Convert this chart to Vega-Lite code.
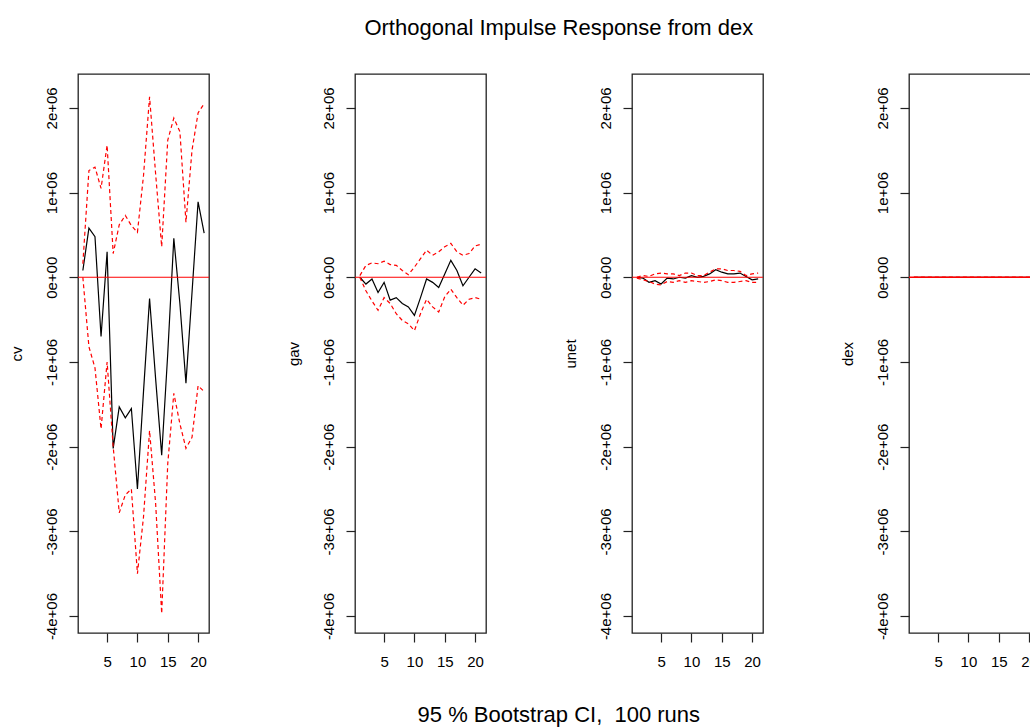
{
  "$schema": "https://vega.github.io/schema/vega-lite/v6.json",
  "padding": {"left": 8, "top": 17, "right": 5, "bottom": 2},
  "background": "white",
  "title": {"text": "Orthogonal Impulse Response from dex", "anchor": "middle", "dx": 34, "offset": 33},
  "datasets": {
    "irf": [
      {"var": "cv", "h": 1, "irf": 80000, "upper": 160000, "lower": 0},
      {"var": "cv", "h": 2, "irf": 580000, "upper": 1260000, "lower": -820000},
      {"var": "cv", "h": 3, "irf": 480000, "upper": 1300000, "lower": -1070000},
      {"var": "cv", "h": 4, "irf": -700000, "upper": 1050000, "lower": -1790000},
      {"var": "cv", "h": 5, "irf": 300000, "upper": 1560000, "lower": -1000000},
      {"var": "cv", "h": 6, "irf": -2020000, "upper": 280000, "lower": -2000000},
      {"var": "cv", "h": 7, "irf": -1530000, "upper": 620000, "lower": -2780000},
      {"var": "cv", "h": 8, "irf": -1660000, "upper": 730000, "lower": -2570000},
      {"var": "cv", "h": 9, "irf": -1550000, "upper": 610000, "lower": -2500000},
      {"var": "cv", "h": 10, "irf": -2500000, "upper": 530000, "lower": -3500000},
      {"var": "cv", "h": 11, "irf": -1350000, "upper": 1200000, "lower": -2830000},
      {"var": "cv", "h": 12, "irf": -250000, "upper": 2130000, "lower": -1810000},
      {"var": "cv", "h": 13, "irf": -1200000, "upper": 1220000, "lower": -2670000},
      {"var": "cv", "h": 14, "irf": -2100000, "upper": 360000, "lower": -3970000},
      {"var": "cv", "h": 15, "irf": -900000, "upper": 1620000, "lower": -2200000},
      {"var": "cv", "h": 16, "irf": 460000, "upper": 1880000, "lower": -1370000},
      {"var": "cv", "h": 17, "irf": -310000, "upper": 1720000, "lower": -1730000},
      {"var": "cv", "h": 18, "irf": -1250000, "upper": 650000, "lower": -2020000},
      {"var": "cv", "h": 19, "irf": -180000, "upper": 1500000, "lower": -1890000},
      {"var": "cv", "h": 20, "irf": 890000, "upper": 1940000, "lower": -1280000},
      {"var": "cv", "h": 21, "irf": 520000, "upper": 2050000, "lower": -1350000},
      {"var": "gav", "h": 1, "irf": 0, "upper": 20000, "lower": 0},
      {"var": "gav", "h": 2, "irf": -80000, "upper": 140000, "lower": -160000},
      {"var": "gav", "h": 3, "irf": -20000, "upper": 170000, "lower": -280000},
      {"var": "gav", "h": 4, "irf": -180000, "upper": 160000, "lower": -390000},
      {"var": "gav", "h": 5, "irf": -60000, "upper": 190000, "lower": -240000},
      {"var": "gav", "h": 6, "irf": -270000, "upper": 150000, "lower": -310000},
      {"var": "gav", "h": 7, "irf": -240000, "upper": 140000, "lower": -430000},
      {"var": "gav", "h": 8, "irf": -310000, "upper": 80000, "lower": -510000},
      {"var": "gav", "h": 9, "irf": -350000, "upper": 30000, "lower": -550000},
      {"var": "gav", "h": 10, "irf": -450000, "upper": 120000, "lower": -630000},
      {"var": "gav", "h": 11, "irf": -240000, "upper": 220000, "lower": -430000},
      {"var": "gav", "h": 12, "irf": -20000, "upper": 320000, "lower": -260000},
      {"var": "gav", "h": 13, "irf": -60000, "upper": 260000, "lower": -350000},
      {"var": "gav", "h": 14, "irf": -120000, "upper": 300000, "lower": -410000},
      {"var": "gav", "h": 15, "irf": 40000, "upper": 360000, "lower": -230000},
      {"var": "gav", "h": 16, "irf": 200000, "upper": 400000, "lower": -140000},
      {"var": "gav", "h": 17, "irf": 80000, "upper": 300000, "lower": -240000},
      {"var": "gav", "h": 18, "irf": -100000, "upper": 260000, "lower": -330000},
      {"var": "gav", "h": 19, "irf": 0, "upper": 280000, "lower": -260000},
      {"var": "gav", "h": 20, "irf": 100000, "upper": 370000, "lower": -240000},
      {"var": "gav", "h": 21, "irf": 50000, "upper": 390000, "lower": -260000},
      {"var": "unet", "h": 1, "irf": 0, "upper": 0, "lower": -10000},
      {"var": "unet", "h": 2, "irf": -10000, "upper": 20000, "lower": -30000},
      {"var": "unet", "h": 3, "irf": -60000, "upper": 10000, "lower": -50000},
      {"var": "unet", "h": 4, "irf": -40000, "upper": 40000, "lower": -80000},
      {"var": "unet", "h": 5, "irf": -80000, "upper": 50000, "lower": -90000},
      {"var": "unet", "h": 6, "irf": -10000, "upper": 40000, "lower": -50000},
      {"var": "unet", "h": 7, "irf": -20000, "upper": 40000, "lower": -60000},
      {"var": "unet", "h": 8, "irf": 0, "upper": 20000, "lower": -40000},
      {"var": "unet", "h": 9, "irf": -10000, "upper": 50000, "lower": -60000},
      {"var": "unet", "h": 10, "irf": 20000, "upper": 50000, "lower": -40000},
      {"var": "unet", "h": 11, "irf": 0, "upper": 20000, "lower": -50000},
      {"var": "unet", "h": 12, "irf": 10000, "upper": 20000, "lower": -60000},
      {"var": "unet", "h": 13, "irf": 40000, "upper": 60000, "lower": -50000},
      {"var": "unet", "h": 14, "irf": 90000, "upper": 100000, "lower": -30000},
      {"var": "unet", "h": 15, "irf": 60000, "upper": 100000, "lower": -40000},
      {"var": "unet", "h": 16, "irf": 40000, "upper": 80000, "lower": -60000},
      {"var": "unet", "h": 17, "irf": 40000, "upper": 80000, "lower": -60000},
      {"var": "unet", "h": 18, "irf": 50000, "upper": 70000, "lower": -50000},
      {"var": "unet", "h": 19, "irf": 10000, "upper": 20000, "lower": -40000},
      {"var": "unet", "h": 20, "irf": -30000, "upper": 40000, "lower": -60000},
      {"var": "unet", "h": 21, "irf": -20000, "upper": 50000, "lower": -60000},
      {"var": "dex", "h": 1, "irf": 0, "upper": 0, "lower": 0},
      {"var": "dex", "h": 2, "irf": 0, "upper": 0, "lower": 0},
      {"var": "dex", "h": 3, "irf": 0, "upper": 0, "lower": 0},
      {"var": "dex", "h": 4, "irf": 0, "upper": 0, "lower": 0},
      {"var": "dex", "h": 5, "irf": 0, "upper": 0, "lower": 0},
      {"var": "dex", "h": 6, "irf": 0, "upper": 0, "lower": 0},
      {"var": "dex", "h": 7, "irf": 0, "upper": 0, "lower": 0},
      {"var": "dex", "h": 8, "irf": 0, "upper": 0, "lower": 0},
      {"var": "dex", "h": 9, "irf": 0, "upper": 0, "lower": 0},
      {"var": "dex", "h": 10, "irf": 0, "upper": 0, "lower": 0},
      {"var": "dex", "h": 11, "irf": 0, "upper": 0, "lower": 0},
      {"var": "dex", "h": 12, "irf": 0, "upper": 0, "lower": 0},
      {"var": "dex", "h": 13, "irf": 0, "upper": 0, "lower": 0},
      {"var": "dex", "h": 14, "irf": 0, "upper": 0, "lower": 0},
      {"var": "dex", "h": 15, "irf": 0, "upper": 0, "lower": 0},
      {"var": "dex", "h": 16, "irf": 0, "upper": 0, "lower": 0},
      {"var": "dex", "h": 17, "irf": 0, "upper": 0, "lower": 0},
      {"var": "dex", "h": 18, "irf": 0, "upper": 0, "lower": 0},
      {"var": "dex", "h": 19, "irf": 0, "upper": 0, "lower": 0},
      {"var": "dex", "h": 20, "irf": 0, "upper": 0, "lower": 0},
      {"var": "dex", "h": 21, "irf": 0, "upper": 0, "lower": 0}
    ]
  },
  "vconcat": [
    {
      "title": {"text": "95 % Bootstrap CI, \u00a0100 runs", "orient": "bottom", "anchor": "middle", "dx": 34, "offset": 35},
      "spacing": 74,
      "hconcat": [
        {
          "width": 131, "height": 559,
          "data": {"name": "irf"},
          "transform": [{"filter": "datum.var == 'cv'"}],
          "layer": [
            {"mark": {"type": "line", "color": "#000000", "strokeWidth": 1.2},
             "encoding": {
               "x": {"field": "h", "type": "quantitative", "scale": {"domain": [0.2, 21.8], "nice": false, "zero": false}, "axis": {"values": [5, 10, 15, 20], "title": null, "labelPadding": 12, "format": "d"}},
               "y": {"field": "irf", "type": "quantitative", "scale": {"domain": [-4200000, 2400000], "nice": false, "zero": false}, "axis": {"title": "cv", "values": [-4000000, -3000000, -2000000, -1000000, 0, 1000000, 2000000], "labelAngle": -90, "labelAlign": "center", "labelBaseline": "bottom", "labelPadding": 10, "titlePadding": 20, "labelExpr": "datum.value == 0 ? '0e+00' : (datum.value < 0 ? '-' : '') + format(abs(datum.value) / 1000000, 'd') + 'e+06'"}}
             }},
            {"transform": [{"filter": "datum.h == 1"}], "mark": {"type": "rule", "color": "#ff0000", "strokeWidth": 1.2}, "encoding": {"y": {"datum": 0, "type": "quantitative"}}},
            {"mark": {"type": "line", "color": "#ff0000", "strokeWidth": 1.2, "strokeDash": [4, 3]},
             "encoding": {"x": {"field": "h", "type": "quantitative"}, "y": {"field": "upper", "type": "quantitative"}}},
            {"mark": {"type": "line", "color": "#ff0000", "strokeWidth": 1.2, "strokeDash": [4, 3]},
             "encoding": {"x": {"field": "h", "type": "quantitative"}, "y": {"field": "lower", "type": "quantitative"}}}
          ]
        },
        {
          "width": 131, "height": 559,
          "data": {"name": "irf"},
          "transform": [{"filter": "datum.var == 'gav'"}],
          "layer": [
            {"mark": {"type": "line", "color": "#000000", "strokeWidth": 1.2},
             "encoding": {
               "x": {"field": "h", "type": "quantitative", "scale": {"domain": [0.2, 21.8], "nice": false, "zero": false}, "axis": {"values": [5, 10, 15, 20], "title": null, "labelPadding": 12, "format": "d"}},
               "y": {"field": "irf", "type": "quantitative", "scale": {"domain": [-4200000, 2400000], "nice": false, "zero": false}, "axis": {"title": "gav", "values": [-4000000, -3000000, -2000000, -1000000, 0, 1000000, 2000000], "labelAngle": -90, "labelAlign": "center", "labelBaseline": "bottom", "labelPadding": 10, "titlePadding": 20, "labelExpr": "datum.value == 0 ? '0e+00' : (datum.value < 0 ? '-' : '') + format(abs(datum.value) / 1000000, 'd') + 'e+06'"}}
             }},
            {"transform": [{"filter": "datum.h == 1"}], "mark": {"type": "rule", "color": "#ff0000", "strokeWidth": 1.2}, "encoding": {"y": {"datum": 0, "type": "quantitative"}}},
            {"mark": {"type": "line", "color": "#ff0000", "strokeWidth": 1.2, "strokeDash": [4, 3]},
             "encoding": {"x": {"field": "h", "type": "quantitative"}, "y": {"field": "upper", "type": "quantitative"}}},
            {"mark": {"type": "line", "color": "#ff0000", "strokeWidth": 1.2, "strokeDash": [4, 3]},
             "encoding": {"x": {"field": "h", "type": "quantitative"}, "y": {"field": "lower", "type": "quantitative"}}}
          ]
        },
        {
          "width": 131, "height": 559,
          "data": {"name": "irf"},
          "transform": [{"filter": "datum.var == 'unet'"}],
          "layer": [
            {"mark": {"type": "line", "color": "#000000", "strokeWidth": 1.2},
             "encoding": {
               "x": {"field": "h", "type": "quantitative", "scale": {"domain": [0.2, 21.8], "nice": false, "zero": false}, "axis": {"values": [5, 10, 15, 20], "title": null, "labelPadding": 12, "format": "d"}},
               "y": {"field": "irf", "type": "quantitative", "scale": {"domain": [-4200000, 2400000], "nice": false, "zero": false}, "axis": {"title": "unet", "values": [-4000000, -3000000, -2000000, -1000000, 0, 1000000, 2000000], "labelAngle": -90, "labelAlign": "center", "labelBaseline": "bottom", "labelPadding": 10, "titlePadding": 20, "labelExpr": "datum.value == 0 ? '0e+00' : (datum.value < 0 ? '-' : '') + format(abs(datum.value) / 1000000, 'd') + 'e+06'"}}
             }},
            {"transform": [{"filter": "datum.h == 1"}], "mark": {"type": "rule", "color": "#ff0000", "strokeWidth": 1.2}, "encoding": {"y": {"datum": 0, "type": "quantitative"}}},
            {"mark": {"type": "line", "color": "#ff0000", "strokeWidth": 1.2, "strokeDash": [4, 3]},
             "encoding": {"x": {"field": "h", "type": "quantitative"}, "y": {"field": "upper", "type": "quantitative"}}},
            {"mark": {"type": "line", "color": "#ff0000", "strokeWidth": 1.2, "strokeDash": [4, 3]},
             "encoding": {"x": {"field": "h", "type": "quantitative"}, "y": {"field": "lower", "type": "quantitative"}}}
          ]
        },
        {
          "width": 131, "height": 559,
          "data": {"name": "irf"},
          "transform": [{"filter": "datum.var == 'dex'"}],
          "layer": [
            {"mark": {"type": "line", "color": "#000000", "strokeWidth": 1.2},
             "encoding": {
               "x": {"field": "h", "type": "quantitative", "scale": {"domain": [0.2, 21.8], "nice": false, "zero": false}, "axis": {"values": [5, 10, 15, 20], "title": null, "labelPadding": 12, "format": "d"}},
               "y": {"field": "irf", "type": "quantitative", "scale": {"domain": [-4200000, 2400000], "nice": false, "zero": false}, "axis": {"title": "dex", "values": [-4000000, -3000000, -2000000, -1000000, 0, 1000000, 2000000], "labelAngle": -90, "labelAlign": "center", "labelBaseline": "bottom", "labelPadding": 10, "titlePadding": 20, "labelExpr": "datum.value == 0 ? '0e+00' : (datum.value < 0 ? '-' : '') + format(abs(datum.value) / 1000000, 'd') + 'e+06'"}}
             }},
            {"mark": {"type": "line", "color": "#ff0000", "strokeWidth": 1.2, "strokeDash": [4, 3]},
             "encoding": {"x": {"field": "h", "type": "quantitative"}, "y": {"field": "upper", "type": "quantitative"}}},
            {"mark": {"type": "line", "color": "#ff0000", "strokeWidth": 1.2, "strokeDash": [4, 3]},
             "encoding": {"x": {"field": "h", "type": "quantitative"}, "y": {"field": "lower", "type": "quantitative"}}},
            {"transform": [{"filter": "datum.h == 1"}], "mark": {"type": "rule", "color": "#ff0000", "strokeWidth": 1.4}, "encoding": {"y": {"datum": 0, "type": "quantitative"}}}
          ]
        }
      ]
    }
  ],
  "config": {
    "view": {"stroke": "#222222", "strokeWidth": 1.3},
    "axis": {"domain": false, "grid": false, "tickColor": "#222222", "tickWidth": 1.2, "tickSize": 9, "labelFont": "Liberation Sans", "labelFontSize": 15, "labelColor": "#000000", "titleFont": "Liberation Sans", "titleFontSize": 15, "titleFontWeight": "normal", "titleColor": "#000000"},
    "title": {"font": "Liberation Sans", "fontSize": 22, "fontWeight": "normal", "color": "#000000"}
  }
}
